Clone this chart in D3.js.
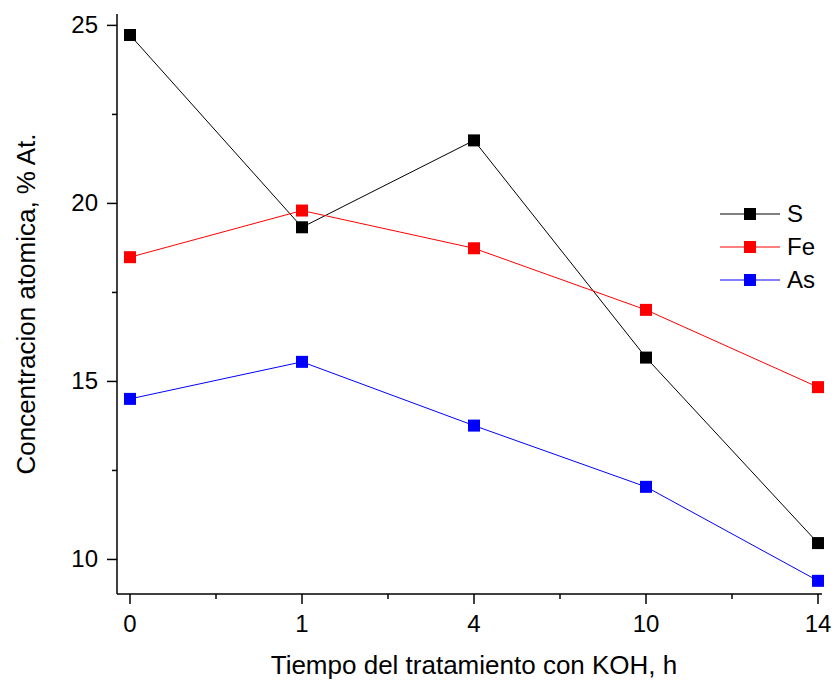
<!doctype html>
<title>Concentracion atomica</title>
<script src="https://cdn.jsdelivr.net/npm/d3@7"></script>
<style>
  body { margin: 0; background: #fff; }
  text { font-family: "Liberation Sans", Arial, sans-serif; }
</style>
<body>
<script>

    var categories = ["0", "1", "4", "10", "14"];
    var seriesNames = ["S", "Fe", "As"];
    var seriesColors = ["#000000", "#ff0000", "#0000ff"];
    var valuesS = [24.73, 19.33, 21.77, 15.67, 10.46];
    var valuesFe = [18.49, 19.80, 18.74, 17.01, 14.84];
    var valuesAs = [14.51, 15.55, 13.76, 12.04, 9.40];
    var yTicks = [10, 15, 20, 25];
    var yMinorTicks = [12.5, 17.5, 22.5];

    var allSeries = [valuesS, valuesFe, valuesAs];

    var svg = d3.select("body").append("svg")
        .attr("width", 835)
        .attr("height", 681);

    var mLeft = 117, mRight = 822, mTop = 14, mBottom = 594;

    var x = d3.scalePoint()
        .domain(categories)
        .range([130, 818]);

    var y = d3.scaleLinear()
        .domain([9.03, 25.32])
        .range([mBottom, mTop]);

    // minor ticks on x between categories
    var xMinor = [];
    for (var i = 0; i < categories.length - 1; i++) {
        xMinor.push((x(categories[i]) + x(categories[i + 1])) / 2);
    }

    var xAxis = svg.append("g")
        .attr("transform", "translate(0," + mBottom + ")");

    xAxis.append("line")
        .attr("x1", mLeft).attr("x2", mRight)
        .attr("y1", 0).attr("y2", 0)
        .attr("stroke", "black").attr("stroke-width", 1.5);

    xAxis.selectAll(".major").data(categories).enter().append("line")
        .attr("x1", function(d) { return x(d); })
        .attr("x2", function(d) { return x(d); })
        .attr("y1", 0).attr("y2", 10)
        .attr("stroke", "black").attr("stroke-width", 1.5);

    xAxis.selectAll(".minor").data(xMinor).enter().append("line")
        .attr("x1", function(d) { return d; })
        .attr("x2", function(d) { return d; })
        .attr("y1", 0).attr("y2", 5)
        .attr("stroke", "black").attr("stroke-width", 1.5);

    xAxis.selectAll(".lbl").data(categories).enter().append("text")
        .attr("x", function(d) { return x(d); })
        .attr("y", 38)
        .attr("text-anchor", "middle")
        .attr("font-size", "24px")
        .text(function(d) { return d; });

    var yAxis = svg.append("g")
        .attr("transform", "translate(" + mLeft + ",0)");

    yAxis.append("line")
        .attr("x1", 0).attr("x2", 0)
        .attr("y1", mTop).attr("y2", mBottom)
        .attr("stroke", "black").attr("stroke-width", 1.5);

    yAxis.selectAll(".major").data(yTicks).enter().append("line")
        .attr("x1", -10).attr("x2", 0)
        .attr("y1", function(d) { return y(d); })
        .attr("y2", function(d) { return y(d); })
        .attr("stroke", "black").attr("stroke-width", 1.5);

    yAxis.selectAll(".minor").data(yMinorTicks).enter().append("line")
        .attr("x1", -5).attr("x2", 0)
        .attr("y1", function(d) { return y(d); })
        .attr("y2", function(d) { return y(d); })
        .attr("stroke", "black").attr("stroke-width", 1.5);

    yAxis.selectAll(".lbl").data(yTicks).enter().append("text")
        .attr("x", -19)
        .attr("y", function(d) { return y(d) + 8; })
        .attr("text-anchor", "end")
        .attr("font-size", "24px")
        .text(function(d) { return d; });

    svg.append("text")
        .attr("x", 474)
        .attr("y", 674)
        .attr("text-anchor", "middle")
        .attr("font-size", "26px")
        .text("Tiempo del tratamiento con KOH, h");

    svg.append("text")
        .attr("transform", "translate(35,304) rotate(-90)")
        .attr("text-anchor", "middle")
        .attr("font-size", "26px")
        .text("Concentracion atomica, % At.");

    var line = d3.line()
        .x(function(d, i) { return x(categories[i]); })
        .y(function(d) { return y(d); });

    allSeries.forEach(function(vals, s) {
        svg.append("path")
            .attr("d", line(vals))
            .attr("fill", "none")
            .attr("stroke", seriesColors[s])
            .attr("stroke-width", 1);
        svg.selectAll(".pt" + s).data(vals).enter().append("rect")
            .attr("x", function(d, i) { return x(categories[i]) - 6; })
            .attr("y", function(d) { return y(d) - 6; })
            .attr("width", 12).attr("height", 12)
            .attr("fill", seriesColors[s]);
    });

    // legend
    var legend = svg.append("g");
    seriesNames.forEach(function(name, s) {
        var ly = 214 + s * 33;
        legend.append("line")
            .attr("x1", 720).attr("x2", 780)
            .attr("y1", ly).attr("y2", ly)
            .attr("stroke", seriesColors[s]).attr("stroke-width", 1);
        legend.append("rect")
            .attr("x", 744).attr("y", ly - 6)
            .attr("width", 12).attr("height", 12)
            .attr("fill", seriesColors[s]);
        legend.append("text")
            .attr("x", 787).attr("y", ly + 8)
            .attr("font-size", "24px")
            .text(name);
    });

</script>
</body>
